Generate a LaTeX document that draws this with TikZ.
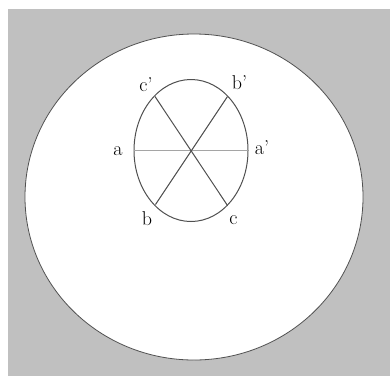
\documentclass[tikz,border=0pt]{standalone}
\usepackage{tikz}
\definecolor{bggray}{RGB}{192,192,192}
\definecolor{linegray}{RGB}{80,80,80}
\definecolor{lightline}{RGB}{165,165,165}
\begin{document}
\begin{tikzpicture}[x=1pt,y=-1pt,
  lbl/.style={inner sep=0pt,font=\fontsize{20}{23}\selectfont},
  chord/.style={draw=linegray,line width=1pt}]
\useasboundingbox (0,0) rectangle (390,376);
\fill[white] (0,0) rectangle (390,376);
\fill[bggray] (8,9) rectangle (390,376);
\draw[linegray,fill=white,line width=0.8pt] (194,197) ellipse [x radius=169, y radius=163];
\draw[linegray,line width=1pt] (191,150.5) ellipse [x radius=57, y radius=71];
\coordinate (A) at (134,150.5);
\coordinate (Ap) at (248,150.5);
\coordinate (Cp) at (155,96.5);
\coordinate (C) at (227.5,205.5);
\coordinate (Bp) at (227.5,96.5);
\coordinate (B) at (155.5,204.5);
\draw[draw=lightline,line width=1.1pt] (A) -- (Ap);
\draw[chord] (Cp) -- (C);
\draw[chord] (Bp) -- (B);
\node[lbl] (la) at (118,151) {a};
\node[lbl] (lap) at (262,148) {a'};
\node[lbl] (lcp) at (146,85) {c'};
\node[lbl] (lbp) at (239.5,83) {b'};
\node[lbl] (lb) at (147,219) {b};
\node[lbl] (lc) at (233.5,220) {c};
\end{tikzpicture}
\end{document}
